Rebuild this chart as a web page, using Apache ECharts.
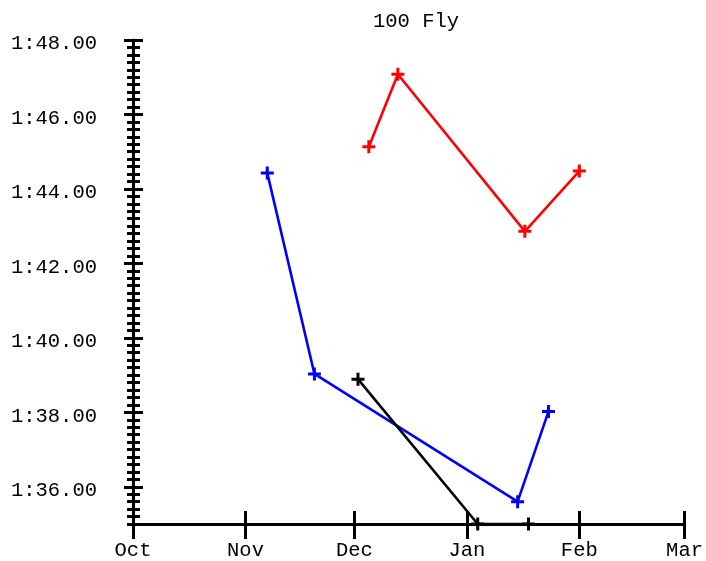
<!DOCTYPE html>
<html>
<head>
<meta charset="utf-8">
<script src="https://cdn.jsdelivr.net/npm/echarts@6/dist/echarts.min.js"></script>
<style>html,body{margin:0;padding:0;background:#fff}#c{width:706px;height:561px}</style>
</head>
<body>
<div id="c"></div>
<script>
// ---- data (times in seconds) ----
var titleText = '100 Fly';
var redDates   = ['2011-12-05', '2011-12-13', '2012-01-17', '2012-02-01'];
var redTimes   = [105.13, 107.08, 102.86, 104.48];
var blueDates  = ['2011-11-07', '2011-11-20', '2012-01-15', '2012-01-23 12:00'];
var blueTimes  = [104.43, 99.03, 95.60, 98.02];
var blackDates = ['2011-12-02', '2012-01-04', '2012-01-18'];
var blackTimes = [98.89, 95.00, 95.00];
var monthTicks  = ['2011-10-01', '2011-11-01', '2011-12-01', '2012-01-01', '2012-02-01', '2012-03-01'];
var monthLabels = ['Oct', 'Nov', 'Dec', 'Jan', 'Feb', 'Mar'];
var yMin = 95, yMax = 108;
var yMajorTicks = [96, 98, 100, 102, 104, 106, 108];
var yMinorStep = 0.2;

function ts(s) {
  var p = s.split(' ');
  var d = p[0].split('-');
  var h = p[1] ? +p[1].split(':')[0] : 0;
  return Date.UTC(+d[0], +d[1] - 1, +d[2], h);
}
function pairs(d, v) { return d.map(function (x, i) { return [ts(x), v[i]]; }); }
function fmtTime(v) {
  var m = Math.floor(v / 60 + 1e-9);
  var s = (v - m * 60).toFixed(2);
  if (s.length < 5) s = '0' + s;
  return m + ':' + s;
}
var monthTs = monthTicks.map(ts);
var yMinor = [];
for (var k = 0; yMin + k * yMinorStep <= yMax + 1e-9; k++) {
  yMinor.push(+(yMin + k * yMinorStep).toFixed(2));
}

var FONT = 'Liberation Mono';
var FS = 20.5;
var plus = 'path://M-1.5,-6.5H1.5V-1.5H6.5V1.5H1.5V6.5H-1.5V1.5H-6.5V-1.5H-1.5Z';

var chart = echarts.init(document.getElementById('c'), null, { renderer: 'canvas' });

function yAx(opts) {
  var base = {
    type: 'value', position: 'left', min: yMin, max: yMax, interval: 1,
    axisLine: { show: false }, splitLine: { show: false },
    axisLabel: { show: false }, minorTick: { show: false }
  };
  return Object.assign(base, opts);
}
function xAx(opts) {
  var base = {
    type: 'value', position: 'bottom', min: monthTs[0], max: monthTs[monthTs.length - 1],
    axisLine: { show: false }, splitLine: { show: false },
    axisLabel: { show: false }, minorTick: { show: false }
  };
  return Object.assign(base, opts);
}
function monthName(v) {
  for (var i = 0; i < monthTs.length; i++) { if (Math.abs(monthTs[i] - v) < 1000) return monthLabels[i]; }
  return '';
}

var option = {
  animation: false,
  backgroundColor: '#fff',
  title: {
    text: titleText, left: 368, top: 6,
    textStyle: { fontFamily: FONT, fontSize: FS, fontWeight: 'normal', color: '#000' }
  },
  grid: { left: 133, right: 20, top: 40, bottom: 37, containLabel: false },
  xAxis: [
    xAx({
      axisLine: { show: true, lineStyle: { color: '#000', width: 3 } },
      axisTick: { show: true, customValues: monthTs, length: 15, inside: false, lineStyle: { color: '#000', width: 3 } },
      axisLabel: {
        show: true, customValues: monthTs, margin: 16,
        fontFamily: FONT, fontSize: FS, color: '#000',
        formatter: function (v) { return monthName(v); }
      }
    }),
    xAx({
      axisTick: { show: true, customValues: monthTs, length: 13, inside: true, lineStyle: { color: '#000', width: 3 } }
    })
  ],
  yAxis: [
    yAx({
      axisLine: { show: true, lineStyle: { color: '#000', width: 3 } },
      axisTick: { show: true, customValues: yMajorTicks, length: 9, inside: false, lineStyle: { color: '#000', width: 3 } },
      axisLabel: {
        show: true, customValues: yMajorTicks, margin: 36,
        fontFamily: FONT, fontSize: FS, color: '#000',
        formatter: function (v) { return '{t|' + fmtTime(v) + '}'; },
        rich: {
          t: { fontFamily: FONT, fontSize: FS, color: '#000', lineHeight: 22, padding: [8, 0, 0, 0] }
        }
      }
    }),
    yAx({ axisTick: { show: true, customValues: yMajorTicks, length: 10, inside: true, lineStyle: { color: '#000', width: 3 } } }),
    yAx({ axisTick: { show: true, customValues: yMinor, length: 6, inside: false, lineStyle: { color: '#000', width: 3 } } }),
    yAx({ axisTick: { show: true, customValues: yMinor, length: 7, inside: true, lineStyle: { color: '#000', width: 3 } } })
  ],
  series: [
    {
      type: 'line', name: 'red', data: pairs(redDates, redTimes), clip: false,
      xAxisIndex: 0, yAxisIndex: 0,
      symbol: plus, symbolSize: 13,
      lineStyle: { color: '#ff0000', width: 2.6 }, itemStyle: { color: '#ff0000' }
    },
    {
      type: 'line', name: 'blue', data: pairs(blueDates, blueTimes), clip: false,
      xAxisIndex: 0, yAxisIndex: 0,
      symbol: plus, symbolSize: 13,
      lineStyle: { color: '#0000ff', width: 2.6 }, itemStyle: { color: '#0000ff' }
    },
    {
      type: 'line', name: 'black', data: pairs(blackDates, blackTimes), clip: false,
      xAxisIndex: 0, yAxisIndex: 0,
      symbol: plus, symbolSize: 13,
      lineStyle: { color: '#000000', width: 2.6 }, itemStyle: { color: '#000000' }
    }
  ]
};
chart.setOption(option);
</script>
</body>
</html>
